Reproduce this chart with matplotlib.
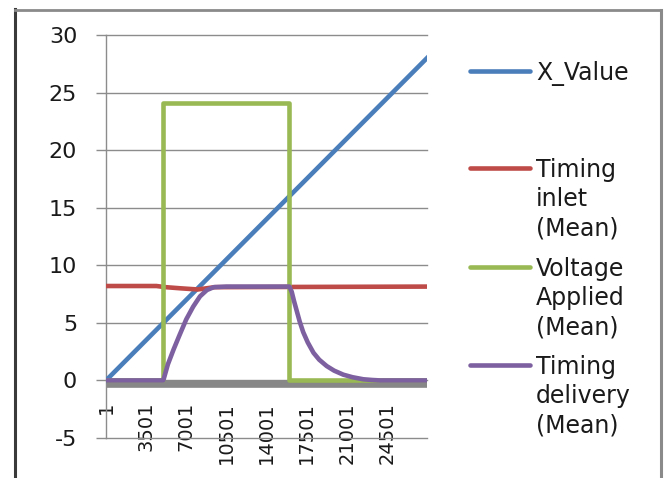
import matplotlib.pyplot as plt
from matplotlib.lines import Line2D

plt.rcParams['font.family'] = ['DejaVu Sans']
plt.rcParams['axes.unicode_minus'] = False

# данные
x_idx = [1, 28001]
x_value = [0.0, 28.0]

inlet_idx = [1, 4400, 5200, 6500, 8000, 9500, 28001]
inlet = [8.2, 8.2, 8.1, 8.0, 7.9, 8.1, 8.15]

voltage_idx = [1, 5000, 5000, 16000, 16000, 28001]
voltage = [0, 0, 24.1, 24.1, 0, 0]

delivery_idx = [1, 5000, 5400, 5900, 6400, 7000, 7600, 8200, 8800, 9400, 10500, 16000,
                16200, 16400, 16650, 16900, 17200, 17600, 18100, 18600, 19250, 19900,
                20700, 21500, 22450, 23200, 23900, 28001]
delivery = [0, 0, 1.4, 2.7, 3.9, 5.3, 6.4, 7.3, 7.85, 8.1, 8.15, 8.15,
            7.7, 6.9, 6.0, 5.1, 4.2, 3.3, 2.4, 1.8, 1.25, 0.85,
            0.5, 0.28, 0.1, 0.04, 0, 0]

x_ticks = [1, 3501, 7001, 10501, 14001, 17501, 21001, 24501]
y_ticks = [-5, 0, 5, 10, 15, 20, 25, 30]

series_names = ['X_Value', 'Timing\ninlet\n(Mean)', 'Voltage\nApplied\n(Mean)', 'Timing\ndelivery\n(Mean)']
colors = ['#4A7EBB', '#BE4B48', '#98B954', '#7D60A0']

W, H = 664, 478
fig = plt.figure(figsize=(W / 100, H / 100), dpi=100)
ax = fig.add_axes([106 / W, 1 - 438 / H, 321 / W, 403 / H])

# толстая серая линия оси категорий
ax.axhline(-0.32, color='#878787', lw=5.5, zorder=1)

ax.plot(x_idx, x_value, color=colors[0], lw=3.3, zorder=3)
ax.plot(inlet_idx, inlet, color=colors[1], lw=3.3, zorder=3)
ax.plot(voltage_idx, voltage, color=colors[2], lw=3.3, zorder=3)
ax.plot(delivery_idx, delivery, color=colors[3], lw=3.3, zorder=4, solid_joinstyle='round')

ax.set_xlim(1, 28001)
ax.set_ylim(-5, 30)
ax.set_yticks(y_ticks)
ax.set_xticks(x_ticks)
ax.set_xticklabels([str(t) for t in x_ticks])
ax.tick_params(axis='x', length=0, pad=15.5, labelrotation=90, labelsize=14,
               labelcolor='#1a1a1a')
ax.tick_params(axis='y', length=7.2, width=1, color='#8c8c8c', pad=13.5,
               labelsize=16, labelcolor='#1a1a1a')
ax.yaxis.grid(True, color='#8c8c8c', lw=1)
for gl in ax.yaxis.get_gridlines():
    gl.set_clip_on(False)
ax.set_axisbelow(True)
for s in ['top', 'right']:
    ax.spines[s].set_visible(False)
ax.spines['bottom'].set_position(('data', 0))
ax.spines['bottom'].set_visible(False)
ax.spines['left'].set_color('#8c8c8c')
ax.spines['left'].set_linewidth(1)

# легенда вручную
entry_y = [70.5, 168, 267, 365]
for name, c, yy in zip(series_names, colors, entry_y):
    fig.add_artist(Line2D([470 / W, 530 / W], [1 - yy / H, 1 - yy / H], color=c, lw=3.3,
                          solid_capstyle='round'))
    fig.text(536 / W, 1 - (yy - 10) / H, name, fontsize=17, color='#1a1a1a',
             va='top', ha='left', linespacing=1.27)

# рамка
fig.add_artist(Line2D([14.5 / W, 14.5 / W], [0, 1 - 9 / H], color='#3a3a3a', lw=2.2))
fig.add_artist(Line2D([14.5 / W, 661 / W], [1 - 9.5 / H, 1 - 9.5 / H], color='#8a8a8a', lw=2))
fig.add_artist(Line2D([661 / W, 661 / W], [0, 1 - 9.5 / H], color='#8a8a8a', lw=2.2))

fig.savefig('out.png', dpi=100)
